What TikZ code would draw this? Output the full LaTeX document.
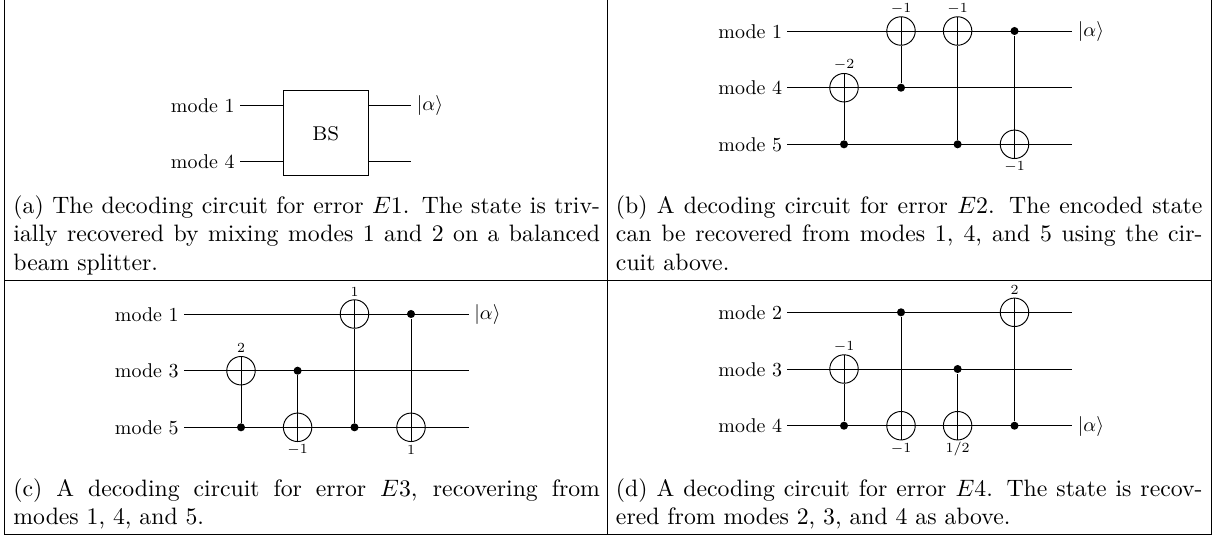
\documentclass[tikz,border=0pt]{standalone}
\tikzset{
  px/.style={x=0.4215pt,y=-0.4215pt},
  wire/.style={line width=0.4pt,black},
  grid/.style={line width=0.4pt,black},
  modelabel/.style={anchor=base east,inner sep=0pt,scale=0.84,font=\fontsize{10}{12}\selectfont},
  outlabel/.style={anchor=base west,inner sep=0pt,scale=0.84,font=\fontsize{10}{12}\selectfont},
  oplus/.style={circle,draw,line width=0.4pt,minimum size=12pt,inner sep=0pt,path picture={\draw[line width=0.4pt] (path picture bounding box.west)--(path picture bounding box.east) (path picture bounding box.north)--(path picture bounding box.south);}},
  ctrl/.style={circle,fill=black,minimum size=3.4pt,inner sep=0pt},
  gatelabel/.style={inner sep=0pt,scale=0.84,font=\fontsize{7}{8}\selectfont},
  captionbox/.style={anchor=north west,inner sep=0pt,text width=247.2pt,align=justify,font=\fontsize{10}{12}\selectfont},
  bsbox/.style={draw,line width=0.4pt,minimum width=36pt,minimum height=36pt,inner sep=0pt,font=\fontsize{8.4}{9.6}\selectfont}
}
\begin{document}
\begin{tikzpicture}[px]
\useasboundingbox (0,0) rectangle (1213,535);
% table grid
\coordinate (tl) at (4,0); \coordinate (tm) at (607.5,0); \coordinate (tr) at (1211.5,0);
\coordinate (bl) at (4,534); \coordinate (bm) at (607.5,534); \coordinate (br) at (1211.5,534);
\coordinate (ml) at (4,280.5); \coordinate (mr) at (1211.5,280.5);
\draw[grid] (tl)--(bl) (tm)--(bm) (tr)--(br) (bl)--(br) (ml)--(mr);

% (a)
\node[bsbox] (bs) at (325.7,133.2) {BS};
\coordinate (a1) at (240,105); \coordinate (a4) at (240,161.7);
\coordinate (a1o) at (411,105); \coordinate (a4o) at (411,161.7);
\draw[wire] (a1)--(a1-|bs.west) (a4)--(a4-|bs.west) (a1-|bs.east)--(a1o) (a4-|bs.east)--(a4o);
\node[modelabel] (al1) at (235,112) {mode 1};
\node[modelabel] (al4) at (235,168.7) {mode 4};
\node[outlabel] (ao) at (416.5,110.5) {$|\alpha\rangle$};

% (b)
\foreach \n/\m/\y in {1/1/31,2/4/87.7,3/5/144.3}{
  \coordinate (bw\n) at (787,\y); \coordinate (be\n) at (1072,\y);
  \draw[wire] (bw\n)--(be\n);
  \node[modelabel] (bl\n) at (782.5,\y+7) {mode \m};
}
\node[outlabel] (bo) at (1077.5,36.5) {$|\alpha\rangle$};
\node[oplus] (b1) at (844,87.7) {}; \node[ctrl] (b1c) at (844,144.3) {};
\node[oplus] (b2) at (901,31) {};   \node[ctrl] (b2c) at (901,87.7) {};
\node[oplus] (b3) at (957.6,31) {}; \node[ctrl] (b3c) at (957.6,144.3) {};
\node[oplus] (b4) at (1014.5,144.3) {}; \node[ctrl] (b4c) at (1014.5,31) {};
\draw[wire] (b1)--(b1c) (b2)--(b2c) (b3)--(b3c) (b4)--(b4c);
\node[gatelabel] (bt1) at (844,65) {$-2$};
\node[gatelabel] (bt2) at (901,8.5) {$-1$};
\node[gatelabel] (bt3) at (957.6,8.5) {$-1$};
\node[gatelabel] (bt4) at (1014.5,167) {$-1$};

% (c)
\foreach \n/\m/\y in {1/1/314,2/3/370.7,3/5/427.3}{
  \coordinate (cw\n) at (184,\y); \coordinate (ce\n) at (468.6,\y);
  \draw[wire] (cw\n)--(ce\n);
  \node[modelabel] (cl\n) at (179,\y+7) {mode \m};
}
\node[outlabel] (co) at (474,319.5) {$|\alpha\rangle$};
\node[oplus] (c1) at (241,370.7) {}; \node[ctrl] (c1c) at (241,427.3) {};
\node[oplus] (c2) at (297.6,427.3) {}; \node[ctrl] (c2c) at (297.6,370.7) {};
\node[oplus] (c3) at (354.5,314) {}; \node[ctrl] (c3c) at (354.5,427.3) {};
\node[oplus] (c4) at (411,427.3) {}; \node[ctrl] (c4c) at (411,314) {};
\draw[wire] (c1)--(c1c) (c2)--(c2c) (c3)--(c3c) (c4)--(c4c);
\node[gatelabel] (ct1) at (241,348) {$2$};
\node[gatelabel] (ct2) at (297.6,450) {$-1$};
\node[gatelabel] (ct3) at (354.5,291.5) {$1$};
\node[gatelabel] (ct4) at (411,450) {$1$};

% (d)
\foreach \n/\m/\y in {1/2/312.3,2/3/369,3/4/425.7}{
  \coordinate (dw\n) at (787,\y); \coordinate (de\n) at (1072,\y);
  \draw[wire] (dw\n)--(de\n);
  \node[modelabel] (dl\n) at (782.5,\y+7) {mode \m};
}
\node[outlabel] (do) at (1077.5,431.2) {$|\alpha\rangle$};
\node[oplus] (d1) at (844,369) {}; \node[ctrl] (d1c) at (844,425.7) {};
\node[oplus] (d2) at (901,425.7) {}; \node[ctrl] (d2c) at (901,312.3) {};
\node[oplus] (d3) at (957.6,425.7) {}; \node[ctrl] (d3c) at (957.6,369) {};
\node[oplus] (d4) at (1014.5,312.3) {}; \node[ctrl] (d4c) at (1014.5,425.7) {};
\draw[wire] (d1)--(d1c) (d2)--(d2c) (d3)--(d3c) (d4)--(d4c);
\node[gatelabel] (dt1) at (844,346.5) {$-1$};
\node[gatelabel] (dt2) at (901,448.5) {$-1$};
\node[gatelabel] (dt3) at (957.6,448.5) {$1/2$};
\node[gatelabel] (dt4) at (1014.5,290) {$2$};

% captions
\node[captionbox] (capa) at (13,195) {(a) The decoding circuit for error $E1$. The state is triv-\linebreak ially recovered by mixing modes 1 and 2 on a balanced\linebreak beam splitter.};
\node[captionbox] (capb) at (615.5,195) {(b) A decoding circuit for error $E2$. The encoded state\linebreak can be recovered from modes 1, 4, and 5 using the cir-\linebreak cuit above.};
\node[captionbox] (capc) at (13,478) {(c) A decoding circuit for error $E3$, recovering from\linebreak modes 1, 4, and 5.};
\node[captionbox] (capd) at (615.5,478) {(d) A decoding circuit for error $E4$. The state is recov-\linebreak ered from modes 2, 3, and 4 as above.};
\end{tikzpicture}
\end{document}
